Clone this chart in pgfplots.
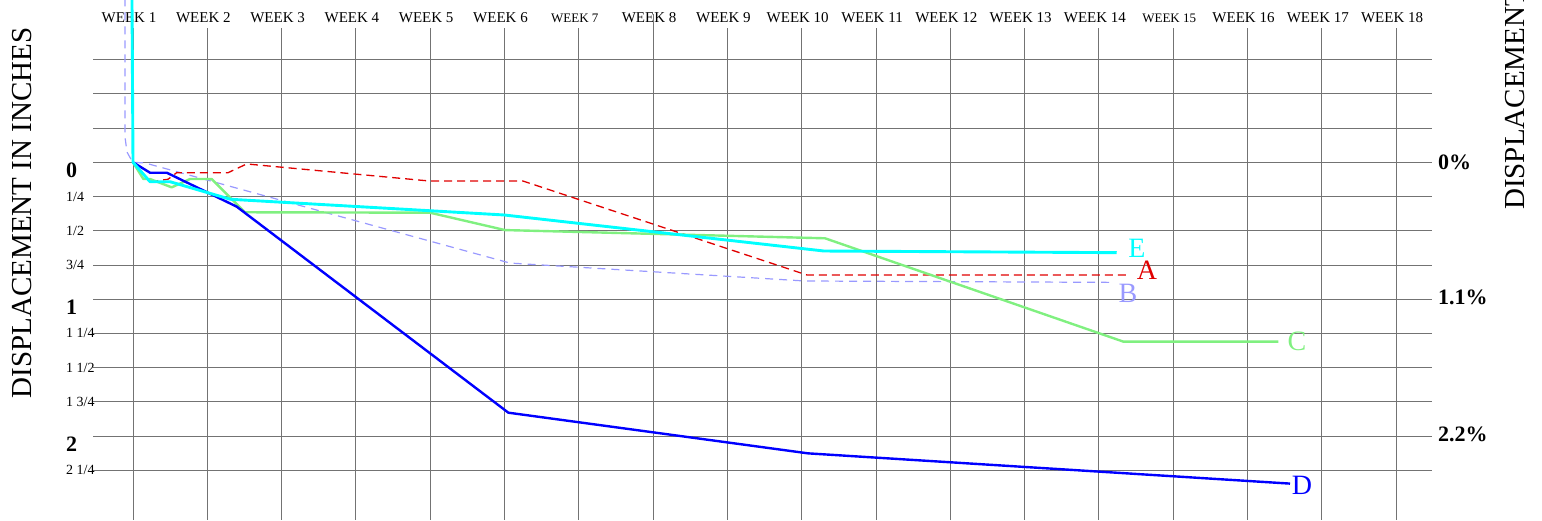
\documentclass[border=0pt]{standalone}
\usepackage{pgfplots}
\pgfplotsset{compat=1.18}
\usepackage{fontspec}
\setmainfont{Liberation Serif}
\definecolor{cA}{HTML}{E00000}
\definecolor{cB}{HTML}{9999FF}
\definecolor{cC}{HTML}{80F080}
\definecolor{cD}{HTML}{0000FF}
\definecolor{cE}{HTML}{00FFFF}
\newcommand{\fs}[1]{\fontsize{#1}{#1}\selectfont}
\newcommand{\bigtick}[1]{\raisebox{-15.5pt}[0pt][0pt]{\fs{22}\bfseries #1}}
\begin{document}
\begin{tikzpicture}
\begin{axis}[
  at={(93pt,-28pt)}, anchor=north west,
  scale only axis, width=1339pt, height=492pt,
  xmin=0.4616, xmax=18.483, ymin=-0.981, ymax=2.613, y dir=reverse,
  clip=false,
  axis line style={draw=none}, major tick length=0pt,
  xmajorgrids, ymajorgrids, grid style={black!55, line width=0.9pt},
  xtick={1,...,18}, xticklabel pos=upper,
  xticklabels={WEEK 1,WEEK 2,WEEK 3,WEEK 4,WEEK 5,WEEK 6,{\fs{13}WEEK 7},WEEK 8,WEEK 9,WEEK 10,WEEK 11,WEEK 12,WEEK 13,WEEK 14,{\fs{13}WEEK 15},WEEK 16,WEEK 17,WEEK 18},
  xticklabel style={font=\fs{15}, anchor=base, yshift=5.5pt, xshift=-4pt, inner sep=0pt},
  ytick={-0.75,-0.5,-0.25,0,0.25,0.5,0.75,1,1.25,1.5,1.75,2,2.25},
  yticklabels={{},{},{},\bigtick{0},1/4,1/2,3/4,\bigtick{1},1 1/4,1 1/2,1 3/4,\bigtick{2},2 1/4},
  yticklabel style={font=\fs{14}, anchor=west, xshift=-27pt, inner sep=0pt},
]
% B
\addplot[cB, line width=1.2pt, dash pattern=on 8pt off 6pt, line join=round] coordinates {
(0.892,-1.3)(0.892,-0.187)(0.919,-0.075)(0.996,0)(1.162,0.005)(6.074,0.736)(10.044,0.867)(14.15,0.877)};
% A
\addplot[cA, line width=1.3pt, dash pattern=on 8pt off 5pt, line join=round] coordinates {
(1,0)(1.229,0.142)(1.471,0.124)(1.588,0.076)(2.279,0.076)(2.53,0.012)(4.997,0.137)(6.25,0.137)(10.07,0.823)(14.37,0.823)};
% C
\addplot[cC, line width=2.4pt, line join=round] coordinates {
(1,0)(1.139,0.122)(1.229,0.122)(1.521,0.183)(1.767,0.122)(2.059,0.122)(2.507,0.365)(4.997,0.368)(6.007,0.495)(10.314,0.555)(14.329,1.310)(16.415,1.310)};
% D
\addplot[cD, line width=2.4pt, line join=round] coordinates {
(1,0)(1.229,0.076)(1.454,0.076)(2.396,0.324)(6.052,1.829)(10.085,2.126)(16.572,2.347)};
% E
\addplot[cE, line width=2.9pt, line join=round] coordinates {
(0.985,-1.3)(1,0)(1.229,0.142)(1.50,0.142)(2.31,0.27)(6.0,0.385)(10.3,0.648)(14.24,0.66)};
\node[cE, font=\fs{28}] at (axis cs:14.513,0.626) {E};
\node[cA, font=\fs{28}] at (axis cs:14.648,0.787) {A};
\node[cB, font=\fs{28}] at (axis cs:14.392,0.955) {B};
\node[cC, font=\fs{28}] at (axis cs:16.666,1.305) {C};
\node[cD, font=\fs{28}] at (axis cs:16.733,2.357) {D};
\node[anchor=west, font=\fs{22}\bfseries, inner sep=0pt, xshift=6pt] at (axis cs:18.483,0) {0\%};
\node[anchor=west, font=\fs{22}\bfseries, inner sep=0pt, xshift=6pt] at (axis cs:18.483,0.99) {1.1\%};
\node[anchor=west, font=\fs{22}\bfseries, inner sep=0pt, xshift=6pt] at (axis cs:18.483,1.985) {2.2\%};
\end{axis}
\draw[black!55, line width=0.9pt] (653.1pt,-14pt) -- (653.1pt,-28pt);
\node[rotate=90, font=\fs{29}] at (22pt,-213pt) {DISPLACEMENT IN INCHES};
\node[rotate=90, anchor=west, font=\fs{29}, inner sep=0pt] at (1515pt,-210pt) {DISPLACEMENT};
\pgfresetboundingbox
\useasboundingbox (0,0) rectangle (1542pt,-520pt);
\end{tikzpicture}
\end{document}
